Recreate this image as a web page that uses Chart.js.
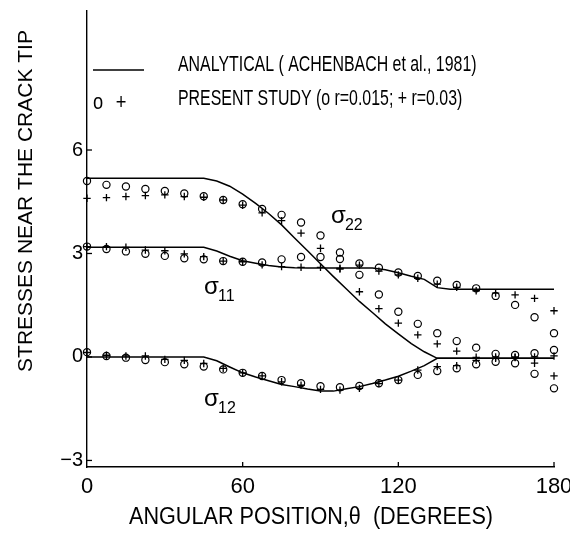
<!DOCTYPE html>
<html lang="en">
<head>
  <meta charset="UTF-8">
  <title>Stresses near the crack tip</title>
  <script src="https://cdn.jsdelivr.net/npm/chart.js"></script>
  <style>
    body { margin: 0; background: #fff; }
    canvas { display: block; }
  </style>
</head>
<body>
  <canvas id="myChart" width="570" height="534"></canvas>

  <script>
    // angular positions of the computed points (degrees)
    const theta = [0, 7.5, 15, 22.5, 30, 37.5, 45, 52.5, 60, 67.5, 75, 82.5, 90,
      97.5, 105, 112.5, 120, 127.5, 135, 142.5, 150, 157.5, 165, 172.5, 180];

    // present study, o r=0.015
    const s22_r015 = [5.10, 4.99, 4.94, 4.87, 4.81, 4.74, 4.66, 4.55, 4.43, 4.29, 4.12, 3.90, 3.52,
      3.03, 2.38, 1.81, 1.31, 0.96, 0.69, 0.46, 0.27, 0.09, 0.06, 0.11, 0.20];
    const s11_r015 = [3.20, 3.13, 3.06, 2.99, 2.93, 2.86, 2.83, 2.78, 2.76, 2.74, 2.83, 2.90, 2.90,
      2.84, 2.71, 2.59, 2.45, 2.35, 2.21, 2.09, 1.99, 1.77, 1.51, 1.15, 0.69];
    const s12_r015 = [0.14, 0.03, -0.02, -0.09, -0.15, -0.21, -0.28, -0.36, -0.46, -0.55, -0.67, -0.76, -0.85,
      -0.88, -0.84, -0.76, -0.67, -0.52, -0.41, -0.33, -0.21, -0.14, -0.18, -0.49, -0.91];

    // present study, + r=0.03
    const s22_r03 = [4.60, 4.62, 4.65, 4.68, 4.70, 4.65, 4.63, 4.55, 4.40, 4.18, 3.95, 3.59, 3.15,
      2.55, 1.89, 1.40, 0.98, 0.64, 0.38, 0.17, -0.01, 0.00, 0.00, 0.00, 0.03];
    const s11_r03 = [3.20, 3.20, 3.18, 3.10, 3.08, 2.99, 2.91, 2.78, 2.76, 2.67, 2.62, 2.60, 2.60,
      2.57, 2.66, 2.49, 2.38, 2.28, 2.11, 2.02, 1.92, 1.85, 1.80, 1.70, 1.34];
    const s12_r03 = [0.13, 0.05, 0.03, 0.03, -0.07, -0.10, -0.19, -0.33, -0.46, -0.55, -0.72, -0.82, -0.94,
      -0.96, -0.91, -0.77, -0.67, -0.38, -0.28, -0.25, -0.10, -0.04, -0.02, -0.18, -0.55];

    // analytical solution (Achenbach et al., 1981)
    const thetaTheory = [0, 45, 50, 55, 60, 65, 70, 75, 80, 85, 90, 95, 100, 105, 110, 115, 120, 125, 130, 135, 140, 180];
    const s22_theory = [5.18, 5.18, 5.10, 4.95, 4.72, 4.45, 4.16, 3.83, 3.45, 3.08, 2.70, 2.33, 1.97, 1.61, 1.29, 0.96, 0.67, 0.39, 0.15, -0.04, -0.04, -0.04];
    const s11_theory = [3.18, 3.18, 3.07, 2.92, 2.79, 2.72, 2.65, 2.61, 2.59, 2.58, 2.58, 2.58, 2.58, 2.58, 2.58, 2.53, 2.44, 2.34, 2.25, 2.01, 1.96, 1.96];
    const s12_theory = [0.00, 0.00, -0.11, -0.29, -0.46, -0.58, -0.69, -0.80, -0.86, -0.93, -0.99, -0.99, -0.92, -0.86, -0.77, -0.67, -0.56, -0.41, -0.25, -0.04, -0.04, -0.04];

    const xTicks = [0, 60, 120, 180];
    const yTicks = [-3, 0, 3, 6];

    // curve labels: subscript, theta, stress
    const curveLabels = [['22', 94, 3.88], ['11', 45.1, 1.83], ['12', 45.1, -1.42]];

    const FONT = "'Liberation Sans', Arial, Helvetica, sans-serif";

    const pts = (xs, ys) => xs.map((t, i) => ({ x: t, y: ys[i] }));

    const lineSet = (data) => ({
      type: 'line', data: pts(thetaTheory, data),
      borderColor: '#000', borderWidth: 1.5, pointRadius: 0, tension: 0, clip: false
    });
    const circleSet = (data) => ({
      type: 'scatter', data: pts(theta, data), pointStyle: 'circle', pointRadius: 3.6,
      borderColor: '#000', borderWidth: 1.2, backgroundColor: 'rgba(0,0,0,0)', clip: false
    });
    const plusSet = (data) => ({
      type: 'scatter', data: pts(theta, data), pointStyle: 'cross', pointRadius: 3.7,
      borderColor: '#000', borderWidth: 1.3, clip: false
    });

    function scaledText(ctx, str, x, y, size, sx, align) {
      ctx.save();
      ctx.translate(x, y);
      ctx.scale(sx, 1);
      ctx.font = size + 'px ' + FONT;
      ctx.textAlign = align || 'left';
      ctx.textBaseline = 'alphabetic';
      ctx.fillText(str, 0, 0);
      ctx.restore();
    }

    const decor = {
      id: 'decor',
      afterDraw(chart) {
        const { ctx, chartArea: a, scales: { x, y } } = chart;
        ctx.save();
        ctx.strokeStyle = '#000';
        ctx.fillStyle = '#000';
        ctx.lineWidth = 1.3;

        // inward tick marks
        yTicks.forEach(v => {
          const py = y.getPixelForValue(v);
          ctx.beginPath(); ctx.moveTo(a.left, py); ctx.lineTo(a.left + 5, py); ctx.stroke();
        });
        xTicks.slice(1).forEach(v => {
          const px = x.getPixelForValue(v);
          ctx.beginPath(); ctx.moveTo(px, a.bottom); ctx.lineTo(px, a.bottom - 5); ctx.stroke();
        });

        // legend
        ctx.lineWidth = 1.4;
        ctx.beginPath(); ctx.moveTo(93, 70); ctx.lineTo(144, 70); ctx.stroke();
        scaledText(ctx, 'ANALYTICAL ( ACHENBACH et al., 1981)', 178, 71, 21.5, 0.74);
        scaledText(ctx, 'o', 98, 109, 21.5, 0.85, 'center');
        scaledText(ctx, '+', 121, 109, 21.5, 0.85, 'center');
        scaledText(ctx, 'PRESENT STUDY (o r=0.015; + r=0.03)', 178, 105, 21.5, 0.74);

        // curve labels
        curveLabels.forEach(([sub, t, v]) => {
          const px = x.getPixelForValue(t), py = y.getPixelForValue(v);
          scaledText(ctx, 'σ', px, py, 24, 1, 'left');
          scaledText(ctx, sub, px + 14, py + 7, 16, 1, 'left');
        });

        // axis titles
        scaledText(ctx, 'ANGULAR POSITION,θ  (DEGREES)', 311, 524, 23, 0.94, 'center');
        ctx.save();
        ctx.translate(32, 201);
        ctx.rotate(-Math.PI / 2);
        scaledText(ctx, 'STRESSES NEAR THE CRACK TIP', 0, 0, 21, 1, 'center');
        ctx.restore();

        ctx.restore();
      }
    };

    new Chart(document.getElementById('myChart'), {
      data: {
        datasets: [
          lineSet(s22_theory), lineSet(s11_theory), lineSet(s12_theory),
          circleSet(s22_r015), circleSet(s11_r015), circleSet(s12_r015),
          plusSet(s22_r03), plusSet(s11_r03), plusSet(s12_r03)
        ]
      },
      options: {
        responsive: false,
        animation: false,
        layout: { padding: { top: 11, right: 16, left: 0, bottom: 0 } },
        plugins: { legend: { display: false }, tooltip: { enabled: false } },
        scales: {
          x: {
            type: 'linear', min: 0, max: 180,
            grid: { display: false, drawTicks: false },
            border: { display: true, color: '#000', width: 1.4 },
            ticks: { color: '#000', padding: 7, font: { family: FONT, size: 22 } },
            afterBuildTicks: s => { s.ticks = xTicks.map(v => ({ value: v })); },
            afterFit: s => { s.height = 67; s.paddingLeft = 0; s.paddingRight = 0; }
          },
          y: {
            type: 'linear', min: -3.19, max: 10.03,
            grid: { display: false, drawTicks: false },
            border: { display: true, color: '#000', width: 1.4 },
            ticks: {
              color: '#000', padding: 4, font: { family: FONT, size: 20 },
              callback: v => String(v).replace('-', '\u2212')
            },
            afterBuildTicks: s => { s.ticks = yTicks.map(v => ({ value: v })); },
            afterFit: s => { s.width = 87; s.paddingTop = 0; s.paddingBottom = 0; }
          }
        }
      },
      plugins: [decor]
    });
  </script>
</body>
</html>
